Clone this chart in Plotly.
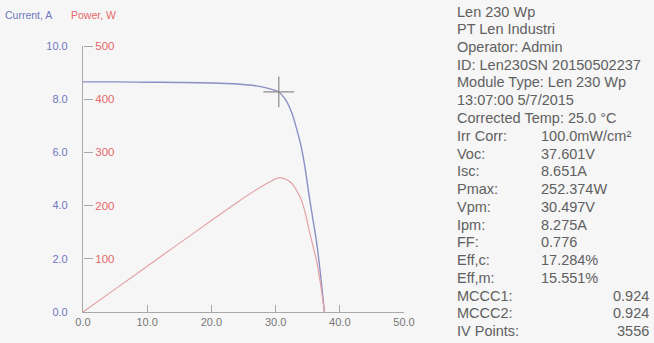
import plotly.graph_objects as go

# ---- data ----
voltage = [0, 5, 10, 15, 20, 24, 27, 29, 30.5, 31.5, 32.5, 33.2, 34, 34.6, 35.2, 35.8, 36.4, 37.0, 37.6]
current = [8.65, 8.65, 8.64, 8.63, 8.61, 8.57, 8.50, 8.40, 8.27, 8.00, 7.50, 6.95, 6.20, 5.40, 4.40, 3.50, 2.60, 1.40, 0]
power = [0, 43, 86, 129, 172, 206, 230, 244, 252, 250, 242, 230, 211, 187, 155, 125, 95, 52, 0]
mpp_v = [30.497]
mpp_i = [8.275]

x_ticks = [0, 10, 20, 30, 40, 50]
current_ticks = [0, 2, 4, 6, 8, 10]
power_ticks = [100, 200, 300, 400, 500]

header_lines = [
    "Len 230 Wp",
    "PT Len Industri",
    "Operator: Admin",
    "ID: Len230SN 20150502237",
    "Module Type: Len 230 Wp",
    "13:07:00 5/7/2015",
    "Corrected Temp: 25.0 °C",
]
param_labels = ["Irr Corr:", "Voc:", "Isc:", "Pmax:", "Vpm:", "Ipm:", "FF:", "Eff,c:", "Eff,m:"]
param_values = ["100.0mW/cm²", "37.601V", "8.651A", "252.374W", "30.497V", "8.275A", "0.776", "17.284%", "15.551%"]
right_labels = ["MCCC1:", "MCCC2:", "IV Points:"]
right_values = ["0.924", "0.924", "3556"]

# ---- layout geometry (window pixels) ----
W, H = 654, 343
L, R, T, B = 83, 250, 46, 31
pw = W - L - R
ph = H - T - B

def px(x):
    return (x - L) / pw

def py(y):
    return (H - B - y) / ph

BLUE_LINE = "#8a8fc4"
RED_LINE = "#e3a3a6"
BLUE_TXT = "#7077c0"
RED_TXT = "#e8676a"
GRAY_TXT = "#606060"
AXIS = "#a8a8a8"

fig = go.Figure()
fig.add_trace(go.Scatter(x=voltage, y=current, mode="lines", line=dict(color=BLUE_LINE, width=1.4, shape="spline"),
                         yaxis="y", showlegend=False, hoverinfo="skip"))
fig.add_trace(go.Scatter(x=voltage, y=power, mode="lines", line=dict(color=RED_LINE, width=1.2, shape="spline"),
                         yaxis="y2", showlegend=False, hoverinfo="skip"))
fig.add_trace(go.Scatter(x=mpp_v, y=mpp_i, mode="markers",
                         marker=dict(symbol="cross-thin", size=22, line=dict(color="#8a8a8a", width=1.2)),
                         yaxis="y", showlegend=False, hoverinfo="skip"))

annotations = []
annotations.append(dict(x=px(3), y=py(15), xref="paper", yref="paper", text="Current, A", showarrow=False,
                        xanchor="left", yanchor="middle", font=dict(size=10.5, color=BLUE_TXT, family="Liberation Sans")))
annotations.append(dict(x=px(69), y=py(15), xref="paper", yref="paper", text="Power, W", showarrow=False,
                        xanchor="left", yanchor="middle", font=dict(size=10.5, color=RED_TXT, family="Liberation Sans")))

tf = dict(size=14.5, color=GRAY_TXT, family="Liberation Sans")
y0, dy = 11.5, 17.75
row = 0
for t in header_lines:
    annotations.append(dict(x=px(455), y=py(y0 + dy * row), xref="paper", yref="paper", text=t, showarrow=False,
                            xanchor="left", yanchor="middle", font=tf))
    row += 1
for lab, val in zip(param_labels, param_values):
    yy = py(y0 + dy * row)
    annotations.append(dict(x=px(455), y=yy, xref="paper", yref="paper", text=lab, showarrow=False,
                            xanchor="left", yanchor="middle", font=tf))
    annotations.append(dict(x=px(539), y=yy, xref="paper", yref="paper", text=val, showarrow=False,
                            xanchor="left", yanchor="middle", font=tf))
    row += 1
for lab, val in zip(right_labels, right_values):
    yy = py(y0 + dy * row)
    annotations.append(dict(x=px(455), y=yy, xref="paper", yref="paper", text=lab, showarrow=False,
                            xanchor="left", yanchor="middle", font=tf))
    annotations.append(dict(x=px(651), y=yy, xref="paper", yref="paper", text=val, showarrow=False,
                            xanchor="right", yanchor="middle", font=tf))
    row += 1

fig.update_layout(
    width=W, height=H,
    margin=dict(l=L, r=R, t=T, b=B, pad=0),
    paper_bgcolor="#f6f6f6", plot_bgcolor="#f6f6f6",
    font=dict(family="Liberation Sans"),
    xaxis=dict(range=[0, 50], tickvals=x_ticks, ticktext=[f"{v:.1f}" for v in x_ticks],
               showgrid=False, zeroline=False, showline=True, linecolor=AXIS, linewidth=1.2,
               ticks="inside", ticklen=7, tickcolor=AXIS, tickwidth=1.2,
               tickfont=dict(size=11, color="#777777")),
    yaxis=dict(range=[0, 10], tickvals=current_ticks, ticktext=[f"{v:.1f}" for v in current_ticks],
               showgrid=False, zeroline=False, showline=True, linecolor=AXIS, linewidth=1.2,
               ticks="outside", ticklen=12, tickcolor="rgba(0,0,0,0)",
               tickfont=dict(size=11, color=BLUE_TXT)),
    yaxis2=dict(range=[0, 500], tickvals=power_ticks, overlaying="y", side="right", anchor="free", position=0,
                showgrid=False, zeroline=False, showline=False,
                ticks="outside", ticklen=9, tickcolor=AXIS, tickwidth=1.2,
                tickfont=dict(size=11.5, color=RED_TXT)),
    annotations=annotations,
)

# remove the default 8px page margin so the figure fills the window exactly
fig.write_html("out.html", config={"displayModeBar": False},
               post_script="document.body.style.margin='0px';")
